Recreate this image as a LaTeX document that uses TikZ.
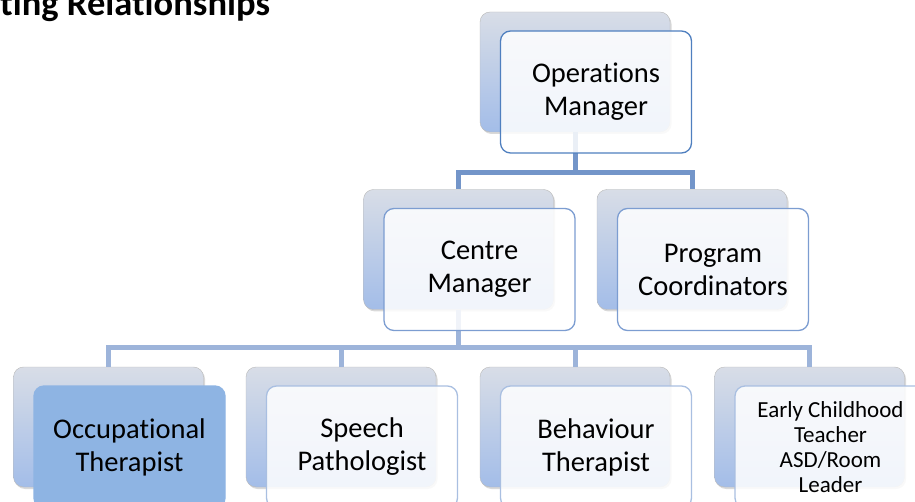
\documentclass[tikz,border=0pt]{standalone}
\usepackage{fontspec}
\setmainfont{Carlito}[Ligatures={TeX,NoCommon}]
\usetikzlibrary{shadows}
\definecolor{backtop}{HTML}{D8DDE7}
\definecolor{backbot}{HTML}{A3BDE8}
\definecolor{linedark}{HTML}{7395C9}
\definecolor{linelight}{HTML}{9DB4DA}
\definecolor{edgedark}{HTML}{4F7FBF}
\definecolor{edgemid}{HTML}{7C9DD1}
\definecolor{edgelight}{HTML}{A9BFE1}
\definecolor{otfill}{HTML}{8EB4E3}
\tikzset{
  backbox/.style={draw=gray!55, rounded corners=10pt, top color=backtop, bottom color=backbot,
    minimum width=190pt, minimum height=120pt, inner sep=0pt,
    drop shadow={shadow xshift=1.5pt, shadow yshift=-2pt, opacity=0.3}},
  frontbox/.style={rounded corners=10pt, line width=1.3pt, fill=white, fill opacity=0.85, text opacity=1,
    minimum width=191pt, minimum height=122pt, align=center, font=\fontsize{28.5}{33}\selectfont},
  bus/.style={line width=5pt}
}
% back card of a role, front card is shifted by (21,20)
\newcommand{\backcard}[3]{\node[backbox] (#1-b) at (#2,#3) {};}

\begin{document}
\begin{tikzpicture}[x=1pt, y=-1pt]

	\useasboundingbox (0,0) rectangle (915,502);
	\clip (0,0) rectangle (915,502);

	\node[anchor=base west, inner sep=0pt] (title) at (0,15.5) {\fontsize{36.5}{40}\selectfont\bfseries ting Relationships};

	% back cards
	\backcard{ops}{575}{72}
	\backcard{centre}{458.5}{249.5}
	\backcard{prog}{692}{249.5}
	\backcard{ot}{108.5}{427}
	\backcard{speech}{341}{427}
	\backcard{behav}{575}{427}
	\backcard{early}{809.5}{427}

	% reporting lines
	\draw[bus, linedark] (ops-b.south) -- ++(0,40) -| (centre-b.north);
	\draw[bus, linedark] (ops-b.south) -- ++(0,40) -| (prog-b.north);

	\draw[bus, linelight] (centre-b.south) -- ++(0,38) -| (ot-b.north);
	\draw[bus, linelight] (centre-b.south) -- ++(0,38) -| (speech-b.north);
	\draw[bus, linelight] (centre-b.south) -- ++(0,38) -| (behav-b.north);
	\draw[bus, linelight] (centre-b.south) -- ++(0,38) -| (early-b.north);

	% front cards
	\node[frontbox, draw=edgedark] (ops) at ([shift={(21,20)}]ops-b.center) {Operations\\Manager};
	\node[frontbox, draw=edgemid] (centre) at ([shift={(21,20)}]centre-b.center) {Centre\\Manager};
	\node[frontbox, draw=edgemid] (prog) at ([shift={(21,20)}]prog-b.center) {Program\\Coordinators};
	\node[frontbox, draw=otfill, fill=otfill, fill opacity=1] (ot) at ([shift={(21,20)}]ot-b.center) {Occupational\\Therapist};
	\node[frontbox, draw=edgelight] (speech) at ([shift={(21,20)}]speech-b.center) {Speech\\Pathologist};
	\node[frontbox, draw=edgelight] (behav) at ([shift={(21,20)}]behav-b.center) {Behaviour\\Therapist};
	\node[frontbox, draw=edgelight, font=\fontsize{23}{25}\selectfont] (early) at ([shift={(21,20)}]early-b.center) {Early Childhood\\Teacher\\ASD/Room\\Leader};

\end{tikzpicture}
\end{document}
